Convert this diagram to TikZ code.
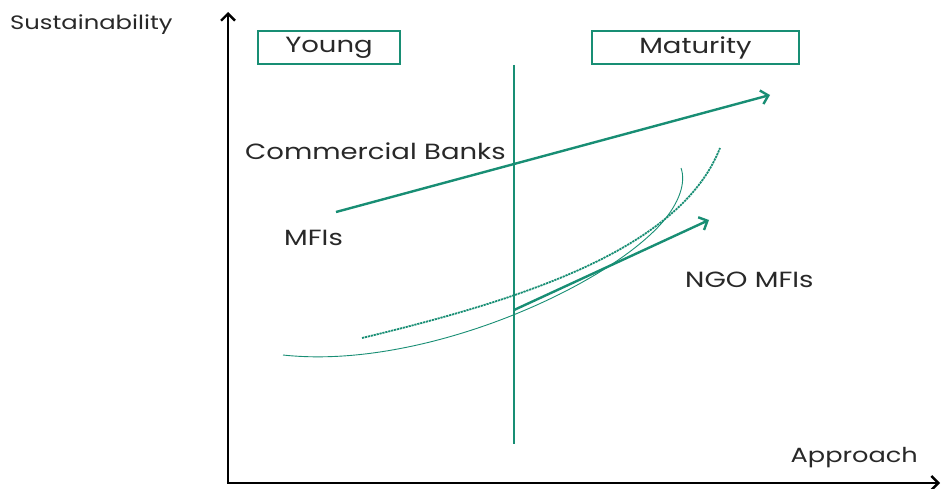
\documentclass[tikz,border=0pt]{standalone}
\usepackage{fontspec}
\setmainfont{Poppins}
\newfontfamily\lblfont[FakeStretch=1.25]{Poppins}
\usetikzlibrary{arrows.meta}
\definecolor{teal1}{RGB}{24,142,116}
\definecolor{txt}{RGB}{40,40,40}
\tikzset{
  lbl/.style={inner sep=0pt, text=txt, font=\lblfont\fontsize{22}{26}\selectfont},
  phase/.style={draw=teal1, line width=1.6pt, minimum height=33pt, inner sep=0pt, text=txt, font=\lblfont\fontsize{22}{26}\selectfont},
  axis/.style={line width=2.4pt, black, -{Straight Barb[length=7pt,width=14pt,line width=2.4pt]}},
  bigarrow/.style={line width=2.4pt, teal1, -{Straight Barb[length=7pt,width=14pt,line width=2.4pt]}},
  thin/.style={line width=0.9pt, teal1},
  dashcurve/.style={line width=1.8pt, teal1, dash pattern=on 2.2pt off 0.8pt}
}
\begin{document}
\begin{tikzpicture}[x=1pt,y=-1pt]
\useasboundingbox (0,0) rectangle (941,489);
% axes
\coordinate (o) at (228,483);
\coordinate (ytop) at (228,12);
\coordinate (xend) at (940,483);
\draw[axis] (o) -- (ytop);
\draw[axis] ([xshift=-1.2pt]o) -- (xend);
% labels
\node[lbl, anchor=west, font=\lblfont\fontsize{19.4}{23}\selectfont] (sus) at (10,25) {Sustainability};
\node[lbl, anchor=east, font=\lblfont\fontsize{20.5}{24}\selectfont] (app) at (918,458) {Approach};
\node[phase, minimum width=142pt] (young) at (329,47.5) {Young};
\node[phase, minimum width=207pt] (mat) at (695.5,47.5) {Maturity};
\node[lbl, anchor=west] (cb) at (245,151) {Commercial Banks};
\node[lbl, anchor=west] (mfi) at (284,238) {MFIs};
\node[lbl, anchor=west] (ngo) at (685,280) {NGO MFIs};
% divider
\coordinate (vtop) at (514,65);
\coordinate (vbot) at (514,444);
\draw[thin, line width=1.1pt] (vtop) -- (vbot);
% commercial banks arrow
\coordinate (cbs) at (336,212);
\coordinate (cbe) at (770,95);
\draw[bigarrow] (cbs) -- (cbe);
% curves
\coordinate (c1s) at (283,355);
\coordinate (c1m) at (660,225);
\coordinate (c1e) at (681,168);
\draw[thin] (c1s) .. controls (420,370) and (600,290) .. (c1m) .. controls (680,203) and (686,182) .. (c1e);
\coordinate (c2s) at (362,338);
\coordinate (c2e) at (720,148);
\draw[dashcurve] (c2s) .. controls (520,300) and (680,250) .. (c2e);
% NGO arrow
\coordinate (ngs) at (514,310);
\coordinate (nge) at (709,220);
\draw[bigarrow] (ngs) -- (nge);
\end{tikzpicture}
\end{document}
